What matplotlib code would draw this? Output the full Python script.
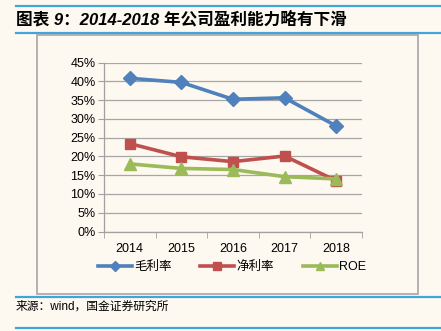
import matplotlib.pyplot as plt
from matplotlib.lines import Line2D
from matplotlib.patches import Rectangle

YEARS = ['2014', '2015', '2016', '2017', '2018']
GROSS_MARGIN = [40.8, 39.7, 35.2, 35.6, 28.1]
NET_MARGIN = [23.4, 19.9, 18.6, 20.1, 13.5]
ROE = [18.0, 16.8, 16.5, 14.6, 14.0]
LABELS = ['毛利率', '净利率', 'ROE']
COLORS = ['#4F81BD', '#C0504D', '#9BBB59']
MARKERS = ['D', 's', '^']
MSIZES = [7, 7.5, 8.5]

FONT = ['Liberation Sans', 'Noto Sans CJK SC']
BG = '#FDF9F0'
W, H = 441, 331

plt.rcParams['font.family'] = FONT

fig = plt.figure(figsize=(W / 100, H / 100), dpi=100, facecolor=BG)

# frame decorations: blue rules and grey chart box
for y in [6, 33, 297, 328]:
    fig.add_artist(Line2D([16 / W, 1], [1 - y / H] * 2, color='#3FA6DD', lw=1.6))
fig.add_artist(Rectangle((37 / W, 1 - 294 / H), (418 - 37) / W, (294 - 35) / H,
                         fill=False, edgecolor='#A6A6A6', lw=1.2))

fig.text(16 / W, 1 - 19 / H, '图表 9：2014-2018 年公司盈利能力略有下滑',
         fontsize=12, fontweight='bold', fontstyle='italic', va='center', ha='left')
fig.text(16 / W, 1 - 307 / H, '来源：wind，国金证券研究所',
         fontsize=8.5, va='center', ha='left')

ax = fig.add_axes([104 / W, 1 - 231.5 / H, (362 - 104) / W, (231.5 - 62.5) / H])
ax.set_facecolor(BG)
x = list(range(len(YEARS)))
for vals, lab, col, m, ms in zip([GROSS_MARGIN, NET_MARGIN, ROE], LABELS, COLORS, MARKERS, MSIZES):
    ax.plot(x, vals, color=col, lw=2.6, marker=m, markersize=ms, label=lab, zorder=3)

ax.set_xlim(-0.5, len(YEARS) - 0.5)
ax.set_ylim(0, 45)
ax.set_yticks(range(0, 46, 5))
ax.set_yticklabels([f'{v}%' for v in range(0, 46, 5)], fontsize=9)
ax.set_xticks(x)
ax.set_xticklabels(YEARS, fontsize=9)
ax.set_xticks([i + 0.5 for i in range(-1, len(YEARS))], minor=True)
ax.tick_params(axis='x', which='major', length=0, pad=8)
ax.tick_params(axis='x', which='minor', length=4, color='#A0A0A0', direction='out')
ax.tick_params(axis='y', length=4, color='#A0A0A0', pad=2)
ax.yaxis.grid(True, color='#A6A6A6', lw=0.9)
ax.set_axisbelow(True)
for s in ['top', 'right']:
    ax.spines[s].set_visible(False)
for s in ['left', 'bottom']:
    ax.spines[s].set_color('#A0A0A0')
    ax.spines[s].set_linewidth(0.9)

fig.legend(loc='center', bbox_to_anchor=(232 / W, 1 - 267 / H), ncol=3, frameon=False,
           fontsize=9, handlelength=2.7, handletextpad=0.2, columnspacing=2.3,
           markerscale=0.75)

fig.savefig('out.png', dpi=100, facecolor=BG)
